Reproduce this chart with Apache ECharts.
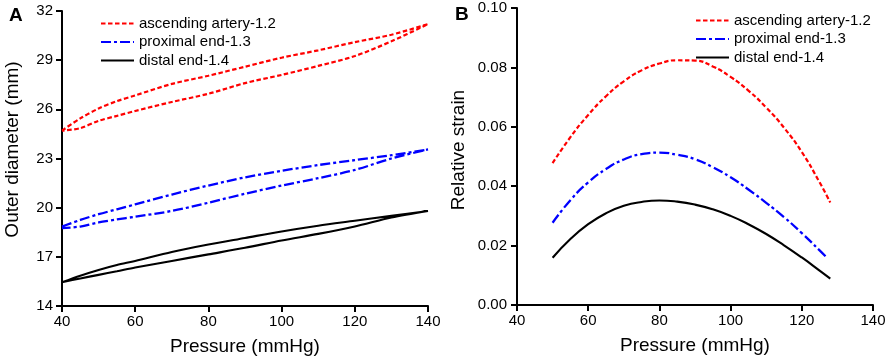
<!DOCTYPE html>
<html>
<head>
<meta charset="utf-8">
<script src="https://cdn.jsdelivr.net/npm/echarts@6/dist/echarts.min.js"></script>
<style>
html,body{margin:0;padding:0;background:#fff;}
#chart{width:886px;height:358px;}
</style>
</head>
<body>
<div id="chart"></div>
<script>
// ---- Panel A: outer diameter loops ----
var pressureA = [40, 45, 50, 55, 60, 70, 80, 90, 100, 110, 120, 130, 140];
var ascUpper  = [24.7, 25.45, 26.05, 26.5, 26.85, 27.55, 28.05, 28.6, 29.15, 29.6, 30.1, 30.55, 31.2];
var ascLower  = [24.7, 24.85, 25.3, 25.6, 25.9, 26.45, 26.95, 27.6, 28.1, 28.65, 29.25, 30.15, 31.2];
var proxUpper = [18.85, 19.25, 19.6, 19.9, 20.2, 20.8, 21.35, 21.85, 22.25, 22.6, 22.9, 23.2, 23.55];
var proxLower = [18.75, 18.85, 19.1, 19.28, 19.45, 19.8, 20.3, 20.85, 21.35, 21.8, 22.3, 23.0, 23.55];
var distUpper = [15.45, 15.85, 16.2, 16.5, 16.75, 17.3, 17.75, 18.15, 18.55, 18.9, 19.2, 19.5, 19.8];
var distLower = [15.45, 15.68, 15.9, 16.12, 16.35, 16.75, 17.15, 17.55, 18.0, 18.4, 18.85, 19.4, 19.8];
var yTicksA = [14, 17, 20, 23, 26, 29, 32];

// ---- Panel B: relative strain ----
var pressureB_asc  = [50, 55, 60, 65, 70, 75, 80, 85, 90, 95, 100, 105, 110, 115, 120, 125, 128];
var strainAsc      = [0.0478, 0.0565, 0.0640, 0.0703, 0.0753, 0.0790, 0.0813, 0.0824, 0.0823, 0.0803, 0.0768, 0.0722, 0.0665, 0.0597, 0.0515, 0.0413, 0.0345];
var pressureB_prox = [50, 55, 60, 65, 70, 75, 80, 85, 90, 95, 100, 105, 110, 115, 120, 125, 127];
var strainProx     = [0.0277, 0.0353, 0.0413, 0.0458, 0.0490, 0.0508, 0.0513, 0.0506, 0.0491, 0.0464, 0.0430, 0.0389, 0.0344, 0.0296, 0.0242, 0.0184, 0.0160];
var pressureB_dist = [50, 55, 60, 65, 70, 75, 80, 85, 90, 95, 100, 105, 110, 115, 120, 125, 128];
var strainDist     = [0.0159, 0.0222, 0.0272, 0.0309, 0.0334, 0.0347, 0.0352, 0.0348, 0.0338, 0.0322, 0.0300, 0.0272, 0.0239, 0.0201, 0.0160, 0.0116, 0.0089];

var names = ['ascending artery-1.2', 'proximal end-1.3', 'distal end-1.4'];
var colors = ['#ff0000', '#0000ff', '#000000'];
var dashes = [[4.5, 2.5], [10, 3, 3, 3], 'solid'];
var widths = [2.2, 2.3, 2.1];

function loop(xs, up, low) {
  var d = [];
  for (var i = 0; i < xs.length; i++) d.push([xs[i], up[i]]);
  for (var j = xs.length - 1; j >= 0; j--) d.push([xs[j], low[j]]);
  return d;
}
function pairs(xs, ys) {
  return xs.map(function (x, i) { return [x, ys[i]]; });
}

var FONT = 'Liberation Sans, Arial, sans-serif';
function xAxisCfg(gi) {
  return {
    gridIndex: gi, type: 'value', min: 40, max: 140, interval: 20,
    name: 'Pressure (mmHg)', nameLocation: 'middle', nameGap: 31,
    nameTextStyle: { fontSize: 19, color: '#000', fontFamily: FONT },
    axisLine: { show: true, onZero: false, lineStyle: { color: '#000', width: 2 } },
    axisTick: { show: true, length: 6, lineStyle: { color: '#000', width: 2 } },
    axisLabel: { fontSize: 15, color: '#000', margin: 8, fontFamily: FONT },
    splitLine: { show: false }
  };
}

var series = [];
var loopsA = [loop(pressureA, ascUpper, ascLower), loop(pressureA, proxUpper, proxLower), loop(pressureA, distUpper, distLower)];
var curvesB = [pairs(pressureB_asc, strainAsc), pairs(pressureB_prox, strainProx), pairs(pressureB_dist, strainDist)];
for (var k = 0; k < 3; k++) {
  series.push({
    name: names[k], type: 'line', xAxisIndex: 0, yAxisIndex: 0,
    data: loopsA[k], smooth: 0.3, symbol: 'none',
    lineStyle: { color: colors[k], width: widths[k], type: dashes[k] },
    itemStyle: { color: colors[k] }
  });
}
for (var m = 0; m < 3; m++) {
  series.push({
    name: names[m], type: 'line', xAxisIndex: 1, yAxisIndex: 1,
    data: curvesB[m], smooth: 0.5, symbol: 'none',
    lineStyle: { color: colors[m], width: widths[m], type: dashes[m] },
    itemStyle: { color: colors[m] }
  });
}

var legendBase = {
  orient: 'vertical', itemWidth: 33, itemHeight: 14, itemGap: 3.5, padding: 0,
  textStyle: { fontSize: 15, color: '#000', fontFamily: FONT },
  itemStyle: { opacity: 0 },
  data: names, selectedMode: false
};

var option = {
  animation: false,
  backgroundColor: '#fff',
  title: [
    { text: 'A', left: 4, top: 1, textStyle: { fontSize: 19, fontWeight: 'bold', color: '#000', fontFamily: FONT } },
    { text: 'B', left: 450, top: 0, textStyle: { fontSize: 19, fontWeight: 'bold', color: '#000', fontFamily: FONT } }
  ],
  legend: [
    Object.assign({}, legendBase, { left: 100, top: 16 }),
    Object.assign({}, legendBase, { left: 695, top: 13 })
  ],
  grid: [
    { left: 62, top: 11, width: 366, height: 295, containLabel: false, outerBoundsMode: 'none' },
    { left: 517, top: 8, width: 356, height: 297, containLabel: false, outerBoundsMode: 'none' }
  ],
  xAxis: [xAxisCfg(0), xAxisCfg(1)],
  yAxis: [
    {
      gridIndex: 0, type: 'value', min: 14, max: 32,
      name: 'Outer diameter (mm)', nameLocation: 'middle', nameGap: 40,
      nameTextStyle: { fontSize: 19, color: '#000', fontFamily: FONT, padding: [0, 0, 0, 18] },
      axisLine: { show: true, lineStyle: { color: '#000', width: 2 } },
      axisTick: { show: true, length: 6, customValues: yTicksA, lineStyle: { color: '#000', width: 2 } },
      axisLabel: { fontSize: 15, color: '#000', margin: 9, customValues: yTicksA, fontFamily: FONT },
      splitLine: { show: false }
    },
    {
      gridIndex: 1, type: 'value', min: 0, max: 0.1, interval: 0.02,
      name: 'Relative strain', nameLocation: 'middle', nameGap: 49,
      nameTextStyle: { fontSize: 19, color: '#000', fontFamily: FONT, padding: [0, 0, 0, 13] },
      axisLine: { show: true, lineStyle: { color: '#000', width: 2 } },
      axisTick: { show: true, length: 6, lineStyle: { color: '#000', width: 2 } },
      axisLabel: { fontSize: 15, color: '#000', margin: 10, fontFamily: FONT,
        formatter: function (v) { return v.toFixed(2); } },
      splitLine: { show: false }
    }
  ],
  series: series
};

var chart = echarts.init(document.getElementById('chart'), null, { renderer: 'canvas' });
chart.setOption(option);
</script>
</body>
</html>
